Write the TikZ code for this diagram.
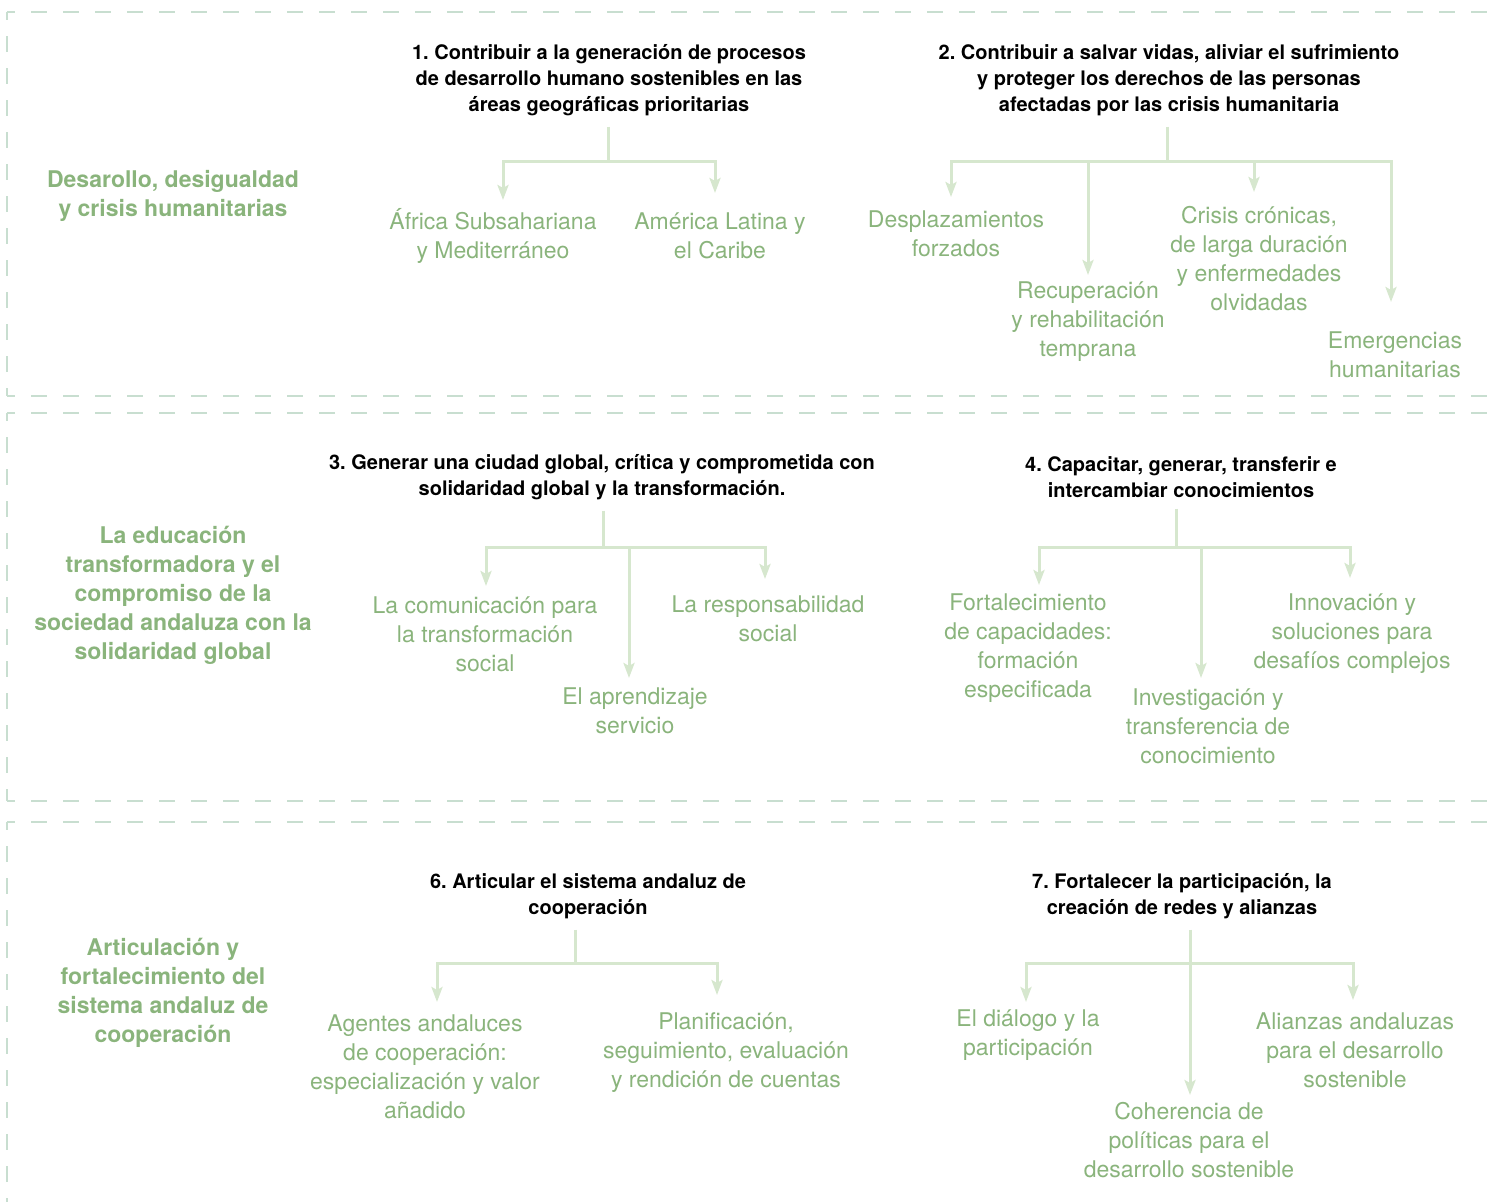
\documentclass[tikz,border=0pt]{standalone}
\usepackage{fontspec}
\setmainfont{TeX Gyre Heros}
\usetikzlibrary{arrows.meta}
\definecolor{headgreen}{RGB}{138,180,124}
\definecolor{linkgreen}{RGB}{214,231,206}
\definecolor{framegray}{RGB}{200,222,208}
\frenchspacing
\begin{document}
\begin{tikzpicture}[x=1pt,y=-1pt,
  goal/.style={font=\fontsize{20}{26}\selectfont\bfseries,align=center,inner sep=0pt,outer ysep=11pt},
  axis/.style={font=\fontsize{23}{29}\selectfont\bfseries,align=center,text=headgreen,inner sep=0pt},
  leaf/.style={font=\fontsize{23}{29}\selectfont,align=center,text=headgreen,inner sep=0pt},
  link/.style={draw=linkgreen,line width=3pt},
  arr/.style={link,-{Stealth[length=15pt,width=11pt,inset=3pt]}},
  frame/.style={draw=framegray,line width=1.4pt,dash pattern=on 16pt off 16pt,dash phase=8pt}]
\useasboundingbox (0,0) rectangle (1487,1202);
% Band 1: desarrollo y crisis humanitarias
\begin{scope}
\draw[frame] (7,12) -- (1487,12);
\draw[frame] (7,12) -- (7,396);
\draw[frame] (7,396) -- (1487,396);
\node[axis] (ax1) at (173,196) {Desarollo, desigualdad\\y crisis humanitarias};
\node[goal] (g1) at (609,80) {1. Contribuir a la generación de procesos\\de desarrollo humano sostenibles en las\\áreas geográficas prioritarias};
\node[goal] (g2) at (1169,80) {2. Contribuir a salvar vidas, aliviar el sufrimiento\\y proteger los derechos de las personas\\afectadas por las crisis humanitaria};
\node[leaf] (l1a) at (493,236) {África Subsahariana\\y Mediterráneo};
\node[leaf] (l1b) at (720,236) {América Latina y\\el Caribe};
\node[leaf] (l2a) at (956,234) {Desplazamientos\\forzados};
\node[leaf] (l2b) at (1088,322) {Recuperación\\y rehabilitación\\temprana};
\node[leaf] (l2c) at (1259,259) {Crisis crónicas,\\de larga duración\\y enfermedades\\olvidadas};
\node[leaf] (l2d) at (1395,355) {Emergencias\\humanitarias};
\coordinate (j1) at (608,161);
\coordinate (t1a) at (503,200);
\coordinate (t1b) at (715,193);
\draw[link] (g1.south -| j1) -- (j1);
\foreach \t in {t1a,t1b} \draw[arr] (j1) -| (\t);
\coordinate (j2) at (1167,161);
\coordinate (t2a) at (951,197);
\coordinate (t2b) at (1088,275);
\coordinate (t2c) at (1254,192);
\coordinate (t2d) at (1391,302);
\draw[link] (g2.south -| j2) -- (j2);
\foreach \t in {t2a,t2b,t2c,t2d} \draw[arr] (j2) -| (\t);
\end{scope}
% Band 2: educacion transformadora
\begin{scope}
\draw[frame] (7,413) -- (1487,413);
\draw[frame] (7,413) -- (7,801);
\draw[frame] (7,801) -- (1487,801);
\node[axis] (ax2) at (173,595) {La educación\\transformadora y el\\compromiso de la\\sociedad andaluza con la\\solidaridad global};
\node[goal] (g3) at (602,477) {3. Generar una ciudad global, crítica y comprometida con\\solidaridad global y la transformación.};
\node[goal] (g4) at (1181,477) {4. Capacitar, generar, transferir e\\intercambiar conocimientos};
\node[leaf] (l3a) at (485,634) {La comunicación para\\la transformación\\social};
\node[leaf] (l3b) at (635,711) {El aprendizaje\\servicio};
\node[leaf] (l3c) at (768,619) {La responsabilidad\\social};
\node[leaf] (l4a) at (1028,648) {Fortalecimiento\\de capacidades:\\formación\\especificada};
\node[leaf] (l4b) at (1208,726) {Investigación y\\transferencia de\\conocimiento};
\node[leaf] (l4c) at (1352,634) {Innovación y\\soluciones para\\desafíos complejos};
\coordinate (j3) at (603,547);
\coordinate (t3a) at (486,586);
\coordinate (t3b) at (629,678);
\coordinate (t3c) at (765,579);
\draw[link] (g3.south -| j3) -- (j3);
\foreach \t in {t3a,t3b,t3c} \draw[arr] (j3) -| (\t);
\coordinate (j4) at (1176,547);
\coordinate (t4a) at (1039,585);
\coordinate (t4b) at (1201,678);
\coordinate (t4c) at (1350,578);
\draw[link] (g4.south -| j4) -- (j4);
\foreach \t in {t4a,t4b,t4c} \draw[arr] (j4) -| (\t);
\end{scope}
% Band 3: sistema andaluz de cooperacion
\begin{scope}
\draw[frame] (7,822) -- (1487,822);
\draw[frame] (7,822) -- (7,1202);
\node[axis] (ax3) at (163,993) {Articulación y\\fortalecimiento del\\sistema andaluz de\\cooperación};
\node[goal] (g6) at (588,896) {6. Articular el sistema andaluz de\\cooperación};
\node[goal] (g7) at (1182,896) {7. Fortalecer la participación, la\\creación de redes y alianzas};
\node[leaf] (l6a) at (425,1067) {Agentes andaluces\\de cooperación:\\especialización y valor\\añadido};
\node[leaf] (l6b) at (726,1053) {Planificación,\\seguimiento, evaluación\\y rendición de cuentas};
\node[leaf] (l7a) at (1028,1035) {El diálogo y la\\participación};
\node[leaf] (l7b) at (1189,1140) {Coherencia de\\políticas para el\\desarrollo sostenible};
\node[leaf] (l7c) at (1355,1050) {Alianzas andaluzas\\para el desarrollo\\sostenible};
\coordinate (j6) at (575,963);
\coordinate (t6a) at (437,1002);
\coordinate (t6b) at (717,995);
\draw[link] (g6.south -| j6) -- (j6);
\foreach \t in {t6a,t6b} \draw[arr] (j6) -| (\t);
\coordinate (j7) at (1190,963);
\coordinate (t7a) at (1026,1002);
\coordinate (t7b) at (1190,1095);
\coordinate (t7c) at (1353,1000);
\draw[link] (g7.south -| j7) -- (j7);
\foreach \t in {t7a,t7b,t7c} \draw[arr] (j7) -| (\t);
\end{scope}
\end{tikzpicture}
\end{document}
